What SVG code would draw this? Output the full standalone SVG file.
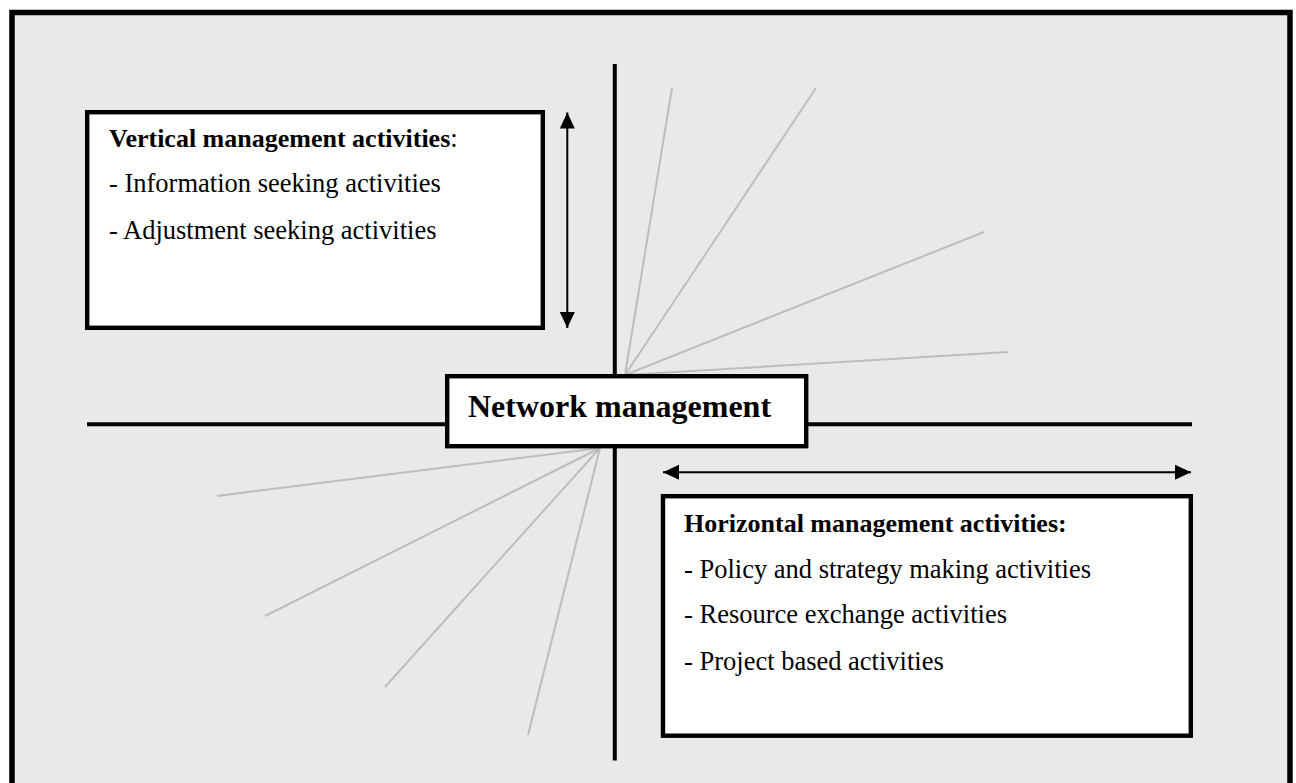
<svg xmlns="http://www.w3.org/2000/svg" width="1296" height="783" viewBox="0 0 1296 783">
  <style>
    .box { fill: #ffffff; stroke: #000000; stroke-width: 4.4; }
    .axis { stroke: #000000; stroke-width: 4; fill: none; }
    .ray { stroke: #bdbdbd; stroke-width: 2; fill: none; }
    .dim { stroke: #000000; stroke-width: 2; fill: none; }
    .txt { font-family: "Liberation Serif", "Times New Roman", serif; font-size: 26.5px; fill: #000000; }
    .bold { font-weight: bold; font-size: 26px; }
    .title { font-family: "Liberation Serif", "Times New Roman", serif; font-size: 32px; font-weight: bold; fill: #000000; }
  </style>
  <defs>
    <marker id="head" markerUnits="userSpaceOnUse" markerWidth="17" markerHeight="17" viewBox="0 0 17 17" refX="16" refY="8.5" orient="auto-start-reverse">
      <path d="M0,1 L16,8.5 L0,16 Z" fill="#000000"/>
    </marker>
  </defs>

  <!-- page and framed panel -->
  <rect x="0" y="0" width="1296" height="783" fill="#ffffff"/>
  <rect x="12" y="12.5" width="1278" height="800" fill="#e9e9e9" stroke="#000000" stroke-width="5.5"/>

  <g id="connectors">
    <!-- crossing axes -->
    <line class="axis" x1="87" y1="424.3" x2="1192" y2="424.3"/>
    <line class="axis" x1="614.8" y1="64" x2="614.8" y2="760.5"/>
    <!-- fan of rays, upper right -->
    <line class="ray" x1="625" y1="375" x2="672" y2="88"/>
    <line class="ray" x1="625" y1="375" x2="816" y2="88"/>
    <line class="ray" x1="625" y1="375" x2="984" y2="232"/>
    <line class="ray" x1="625" y1="375" x2="1008" y2="352"/>
    <!-- fan of rays, lower left -->
    <line class="ray" x1="600" y1="448" x2="217" y2="496"/>
    <line class="ray" x1="600" y1="448" x2="265" y2="616"/>
    <line class="ray" x1="600" y1="448" x2="385" y2="687"/>
    <line class="ray" x1="600" y1="448" x2="528" y2="735"/>
    <!-- double-headed range arrows -->
    <line class="dim" x1="567.3" y1="112.5" x2="567.3" y2="328" marker-start="url(#head)" marker-end="url(#head)"/>
    <line class="dim" x1="663" y1="472.3" x2="1191" y2="472.3" marker-start="url(#head)" marker-end="url(#head)"/>
  </g>

  <g id="vertical-activities">
    <rect class="box" x="87.2" y="112.2" width="455.6" height="215.6"/>
    <text class="txt" x="109" y="147"><tspan class="bold">Vertical management activities</tspan>:</text>
    <text class="txt" x="109" y="192">- Information seeking activities</text>
    <text class="txt" x="109" y="238.5">- Adjustment seeking activities</text>
  </g>

  <g id="network-management">
    <rect class="box" x="447.2" y="376.2" width="359" height="70"/>
    <text class="title" x="468" y="417">Network management</text>
  </g>

  <g id="horizontal-activities">
    <rect class="box" x="663" y="496.2" width="527.8" height="239.5"/>
    <text class="txt bold" x="684" y="532">Horizontal management activities:</text>
    <text class="txt" x="684" y="577.5">- Policy and strategy making activities</text>
    <text class="txt" x="684" y="623">- Resource exchange activities</text>
    <text class="txt" x="684" y="669.5">- Project based activities</text>
  </g>
</svg>
